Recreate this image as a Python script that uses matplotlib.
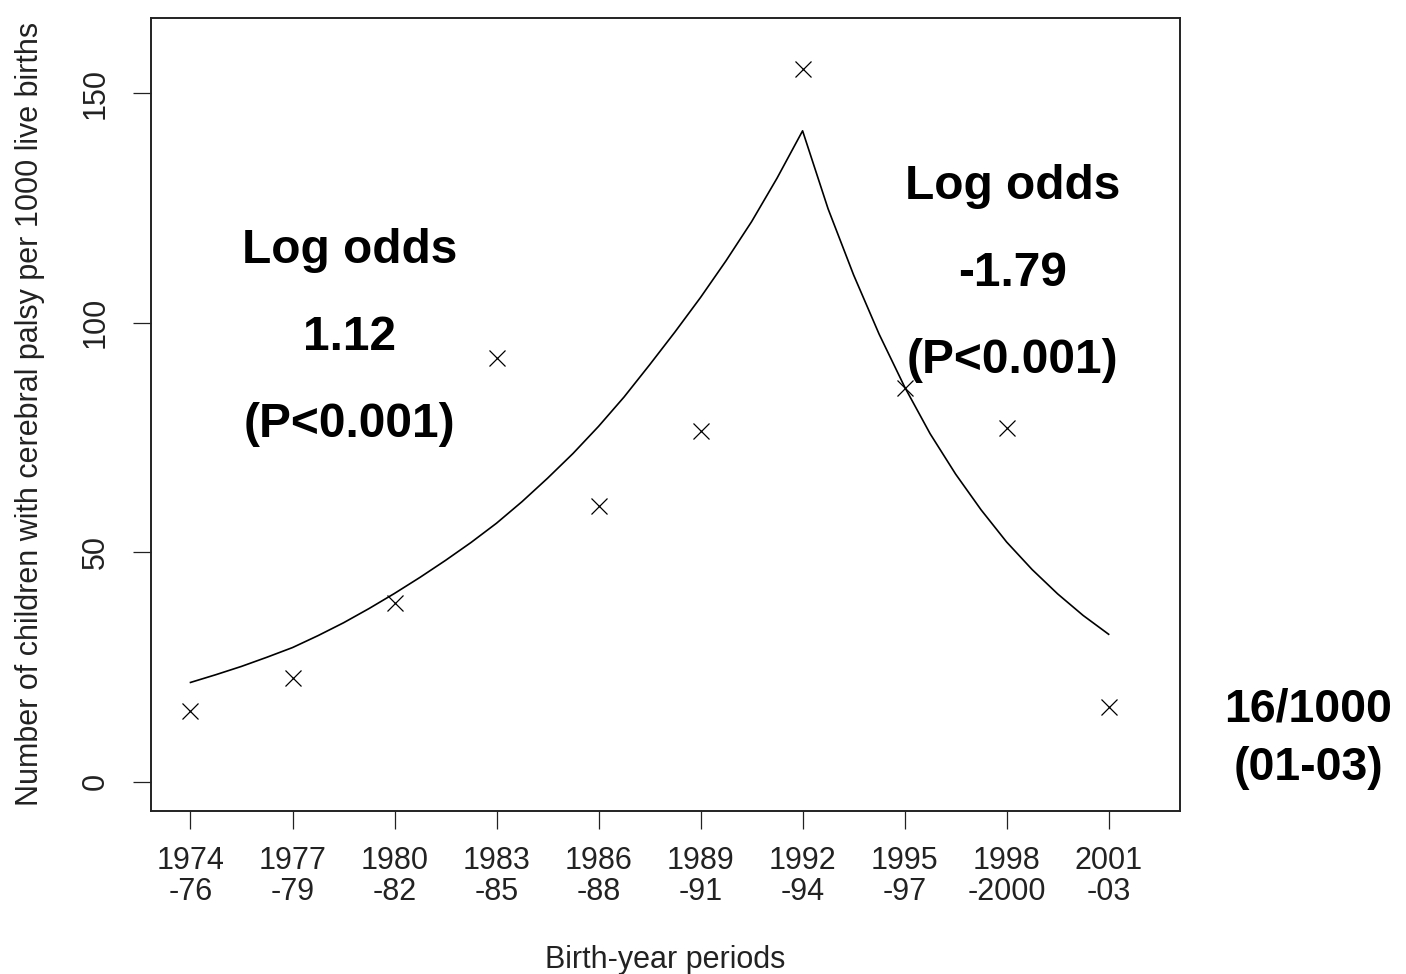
import numpy as np
import matplotlib
matplotlib.use('Agg')
import matplotlib.pyplot as plt

plt.rcParams['font.family'] = ['Liberation Sans', 'DejaVu Sans']

# birth-year periods and observed rates per 1000 live births
periods = ['1974\n-76', '1977\n-79', '1980\n-82', '1983\n-85', '1986\n-88',
           '1989\n-91', '1992\n-94', '1995\n-97', '1998\n-2000', '2001\n-03']
observed = [15.3, 22.6, 38.9, 92.3, 60.1, 76.3, 155.2, 85.8, 77.1, 16.2]

# fitted trend every quarter period (0 .. 9)
fit_val = [21.6, 23.3, 25.1, 27.1, 29.2, 31.8, 34.6, 37.7, 41.0,
           44.5, 48.2, 52.1, 56.3, 61.0, 66.1, 71.5, 77.4,
           83.8, 90.8, 98.0, 105.5, 113.5, 122.0, 131.5, 141.8,
           124.8, 110.4, 97.5, 86.0, 75.8, 67.0, 59.2, 52.2,
           46.2, 40.9, 36.2, 32.1]
fit_pos = np.linspace(0, 9, len(fit_val))

fig = plt.figure(figsize=(14.06, 9.74), dpi=100)
ax = fig.add_axes([0.1074, 0.1674, 0.7319, 0.8142])

x = np.arange(len(periods))
ax.plot(fit_pos, fit_val, color='black', lw=1.2)
ax.plot(x, observed, 'x', color='black', ms=11.5, mew=0.9)

ax.set_xlim(-0.387, 9.70)
ax.set_ylim(-6.4, 166.4)

ax.set_xticks(x)
ax.set_xticklabels(periods, linespacing=1.05)
ax.set_yticks([0, 50, 100, 150])
ax.set_yticklabels(['0', '50', '100', '150'], rotation=90, va='center')
ax.tick_params(axis='both', direction='out', length=13, width=0.9,
               labelsize=22, colors='#222222')
ax.tick_params(axis='x', pad=12)
ax.tick_params(axis='y', pad=16)
for s in ax.spines.values():
    s.set_linewidth(1.4)
    s.set_color('#222222')

ax.set_xlabel('Birth-year periods', fontsize=22, color='#222222')
ax.xaxis.set_label_coords(0.5, -0.198)
ax.xaxis.label.set_va('baseline')
ax.set_ylabel('Number of children with cerebral palsy per 1000 live births',
              fontsize=22, color='#222222')
ax.yaxis.set_label_coords(-0.1176, 0.5)
ax.yaxis.label.set_va('center')

bold = dict(fontsize=34.5, fontweight='bold', ha='center', va='baseline')
ax.text(1.56, 113.1, 'Log odds', **bold)
ax.text(1.56, 94.1, '1.12', **bold)
ax.text(1.56, 75.1, '(P<0.001)', **bold)
ax.text(8.06, 126.9, 'Log odds', **bold)
ax.text(8.06, 107.9, '-1.79', **bold)
ax.text(8.06, 89.1, '(P<0.001)', **bold)

fig.text(1308 / 1406, 1 - 722 / 974, '16/1000', fontsize=33.5, fontweight='bold',
         ha='center', va='baseline')
fig.text(1308 / 1406, 1 - 780 / 974, '(01-03)', fontsize=33.5, fontweight='bold',
         ha='center', va='baseline')

fig.savefig('out.png', dpi=100)
